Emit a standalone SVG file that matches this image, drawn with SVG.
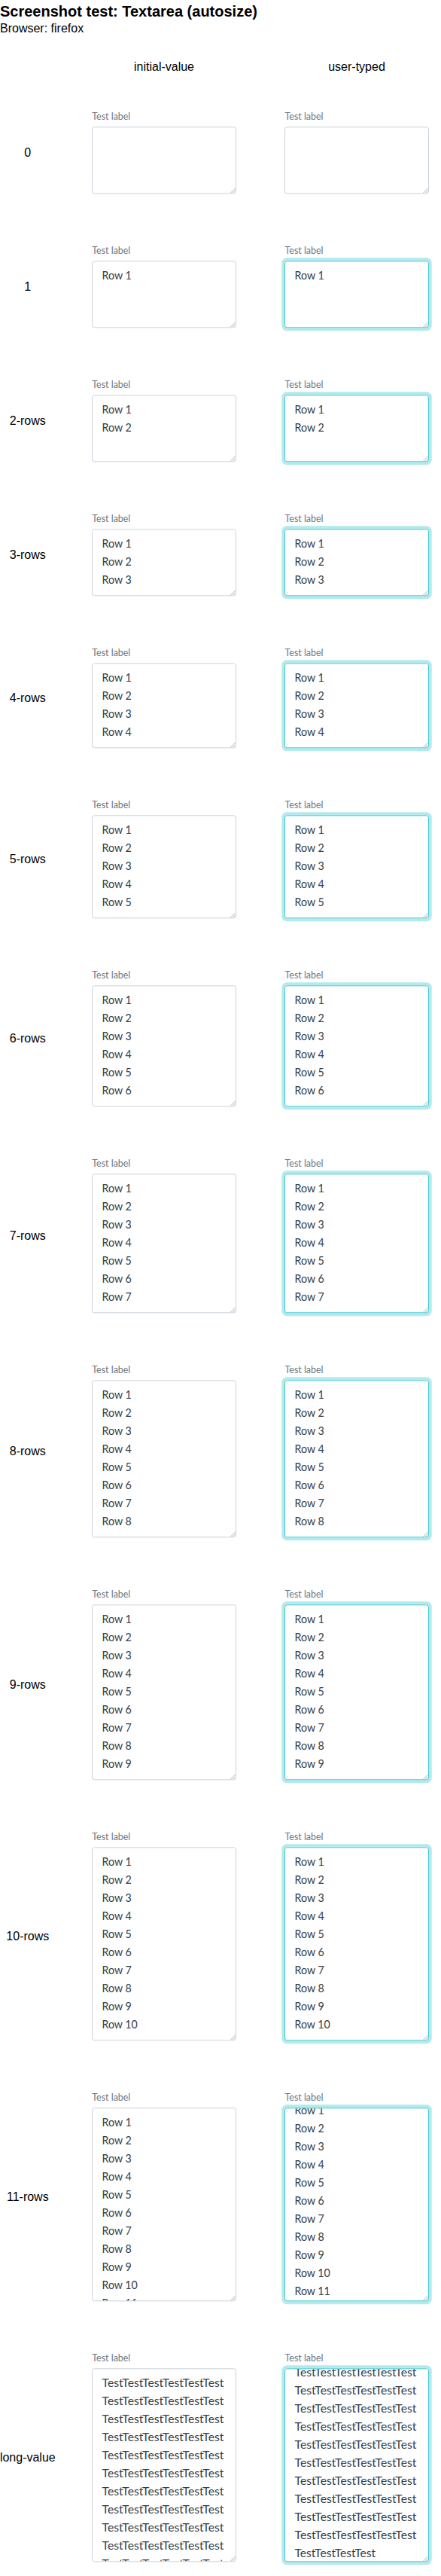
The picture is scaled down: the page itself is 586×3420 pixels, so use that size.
<svg xmlns="http://www.w3.org/2000/svg" xmlns:xlink="http://www.w3.org/1999/xlink" width="586" height="3420" viewBox="0 0 586 3420">
<style>
.title{font-family:"Liberation Sans",Arial,sans-serif;font-size:20px;font-weight:bold;fill:#000}
.hdr{font-family:"Liberation Sans",Arial,sans-serif;font-size:16px;fill:#000}
.mid{text-anchor:middle}
.lbl{font-family:"Source Sans Pro",Lato,"Noto Sans",sans-serif;font-size:12.5px;fill:#6b7886}
.val{font-family:"Source Sans Pro",Lato,"Noto Sans",sans-serif;font-size:15.5px;fill:#333e49}
.box{fill:#fff;stroke:#c9d3dc;stroke-width:1}
.fbox{fill:#fff;stroke:#40c9d1;stroke-width:1}
.glow{fill:none;stroke:#b4eaed;stroke-width:4}
.grip{fill:none;stroke:#b3b3b3;stroke-width:1}
</style>
<defs>
<path id="grip" class="grip" d="M-6,0 L0,-6 M-3,0 L0,-3"/>
<clipPath id="c11l"><rect x="123" y="2799.3" width="190" height="255"/></clipPath>
<clipPath id="c11r"><rect x="379" y="2799.3" width="190" height="255"/></clipPath>
<clipPath id="cLl"><rect x="123" y="3145.3" width="190" height="255"/></clipPath>
<clipPath id="cLr"><rect x="379" y="3145.3" width="190" height="255"/></clipPath>
</defs>

<g id="heading">
<text class="title" x="0" y="22">Screenshot test: Textarea (autosize)</text>
<text class="hdr" x="0" y="42.5">Browser: firefox</text>
<text class="hdr mid" x="218" y="94">initial-value</text>
<text class="hdr mid" x="474" y="94">user-typed</text>
</g>

<g id="row-0">
<text class="hdr mid" x="36.8" y="208.35">0</text>
<g id="row-0-initial">
<text class="lbl" x="122.3" y="159.3" textLength="51" lengthAdjust="spacingAndGlyphs">Test label</text>
<rect class="box" x="122.5" y="168.8" width="191" height="88" rx="3"/>
<use xlink:href="#grip" x="312.5" y="256"/>
</g>
<g id="row-0-typed">
<text class="lbl" x="378.5" y="159.3" textLength="51" lengthAdjust="spacingAndGlyphs">Test label</text>
<rect class="box" x="378.5" y="168.8" width="191" height="88" rx="3"/>
<use xlink:href="#grip" x="568.5" y="256"/>
</g>
</g>

<g id="row-1">
<text class="hdr mid" x="36.8" y="386.35">1</text>
<g id="row-1-initial">
<text class="lbl" x="122.3" y="337.3" textLength="51" lengthAdjust="spacingAndGlyphs">Test label</text>
<rect class="box" x="122.5" y="346.8" width="191" height="88" rx="3"/>
<use xlink:href="#grip" x="312.5" y="434"/>
<text class="val" x="135.5" y="371.3" textLength="39.3" lengthAdjust="spacingAndGlyphs">Row 1</text>
</g>
<g id="row-1-typed">
<text class="lbl" x="378.5" y="337.3" textLength="51" lengthAdjust="spacingAndGlyphs">Test label</text>
<rect class="glow" x="376.3" y="344.3" width="195.4" height="93" rx="5"/>
<rect class="fbox" x="378.5" y="346.8" width="191" height="88" rx="3"/>
<use xlink:href="#grip" x="568.5" y="434"/>
<text class="val" x="391.5" y="371.3" textLength="39.3" lengthAdjust="spacingAndGlyphs">Row 1</text>
</g>
</g>

<g id="row-2">
<text class="hdr mid" x="36.8" y="564.35">2-rows</text>
<g id="row-2-initial">
<text class="lbl" x="122.3" y="515.3" textLength="51" lengthAdjust="spacingAndGlyphs">Test label</text>
<rect class="box" x="122.5" y="524.8" width="191" height="88" rx="3"/>
<use xlink:href="#grip" x="312.5" y="612"/>
<text class="val" x="135.5" y="549.3" textLength="39.3" lengthAdjust="spacingAndGlyphs">Row 1</text>
<text class="val" x="135.5" y="573.3" textLength="39.3" lengthAdjust="spacingAndGlyphs">Row 2</text>
</g>
<g id="row-2-typed">
<text class="lbl" x="378.5" y="515.3" textLength="51" lengthAdjust="spacingAndGlyphs">Test label</text>
<rect class="glow" x="376.3" y="522.3" width="195.4" height="93" rx="5"/>
<rect class="fbox" x="378.5" y="524.8" width="191" height="88" rx="3"/>
<use xlink:href="#grip" x="568.5" y="612"/>
<text class="val" x="391.5" y="549.3" textLength="39.3" lengthAdjust="spacingAndGlyphs">Row 1</text>
<text class="val" x="391.5" y="573.3" textLength="39.3" lengthAdjust="spacingAndGlyphs">Row 2</text>
</g>
</g>

<g id="row-3">
<text class="hdr mid" x="36.8" y="742.35">3-rows</text>
<g id="row-3-initial">
<text class="lbl" x="122.3" y="693.3" textLength="51" lengthAdjust="spacingAndGlyphs">Test label</text>
<rect class="box" x="122.5" y="702.8" width="191" height="88" rx="3"/>
<use xlink:href="#grip" x="312.5" y="790"/>
<text class="val" x="135.5" y="727.3" textLength="39.3" lengthAdjust="spacingAndGlyphs">Row 1</text>
<text class="val" x="135.5" y="751.3" textLength="39.3" lengthAdjust="spacingAndGlyphs">Row 2</text>
<text class="val" x="135.5" y="775.3" textLength="39.3" lengthAdjust="spacingAndGlyphs">Row 3</text>
</g>
<g id="row-3-typed">
<text class="lbl" x="378.5" y="693.3" textLength="51" lengthAdjust="spacingAndGlyphs">Test label</text>
<rect class="glow" x="376.3" y="700.3" width="195.4" height="93" rx="5"/>
<rect class="fbox" x="378.5" y="702.8" width="191" height="88" rx="3"/>
<use xlink:href="#grip" x="568.5" y="790"/>
<text class="val" x="391.5" y="727.3" textLength="39.3" lengthAdjust="spacingAndGlyphs">Row 1</text>
<text class="val" x="391.5" y="751.3" textLength="39.3" lengthAdjust="spacingAndGlyphs">Row 2</text>
<text class="val" x="391.5" y="775.3" textLength="39.3" lengthAdjust="spacingAndGlyphs">Row 3</text>
</g>
</g>

<g id="row-4">
<text class="hdr mid" x="36.8" y="932.35">4-rows</text>
<g id="row-4-initial">
<text class="lbl" x="122.3" y="871.3" textLength="51" lengthAdjust="spacingAndGlyphs">Test label</text>
<rect class="box" x="122.5" y="880.8" width="191" height="112" rx="3"/>
<use xlink:href="#grip" x="312.5" y="992"/>
<text class="val" x="135.5" y="905.3" textLength="39.3" lengthAdjust="spacingAndGlyphs">Row 1</text>
<text class="val" x="135.5" y="929.3" textLength="39.3" lengthAdjust="spacingAndGlyphs">Row 2</text>
<text class="val" x="135.5" y="953.3" textLength="39.3" lengthAdjust="spacingAndGlyphs">Row 3</text>
<text class="val" x="135.5" y="977.3" textLength="39.3" lengthAdjust="spacingAndGlyphs">Row 4</text>
</g>
<g id="row-4-typed">
<text class="lbl" x="378.5" y="871.3" textLength="51" lengthAdjust="spacingAndGlyphs">Test label</text>
<rect class="glow" x="376.3" y="878.3" width="195.4" height="117" rx="5"/>
<rect class="fbox" x="378.5" y="880.8" width="191" height="112" rx="3"/>
<use xlink:href="#grip" x="568.5" y="992"/>
<text class="val" x="391.5" y="905.3" textLength="39.3" lengthAdjust="spacingAndGlyphs">Row 1</text>
<text class="val" x="391.5" y="929.3" textLength="39.3" lengthAdjust="spacingAndGlyphs">Row 2</text>
<text class="val" x="391.5" y="953.3" textLength="39.3" lengthAdjust="spacingAndGlyphs">Row 3</text>
<text class="val" x="391.5" y="977.3" textLength="39.3" lengthAdjust="spacingAndGlyphs">Row 4</text>
</g>
</g>

<g id="row-5">
<text class="hdr mid" x="36.8" y="1146.35">5-rows</text>
<g id="row-5-initial">
<text class="lbl" x="122.3" y="1073.3" textLength="51" lengthAdjust="spacingAndGlyphs">Test label</text>
<rect class="box" x="122.5" y="1082.8" width="191" height="136" rx="3"/>
<use xlink:href="#grip" x="312.5" y="1218"/>
<text class="val" x="135.5" y="1107.3" textLength="39.3" lengthAdjust="spacingAndGlyphs">Row 1</text>
<text class="val" x="135.5" y="1131.3" textLength="39.3" lengthAdjust="spacingAndGlyphs">Row 2</text>
<text class="val" x="135.5" y="1155.3" textLength="39.3" lengthAdjust="spacingAndGlyphs">Row 3</text>
<text class="val" x="135.5" y="1179.3" textLength="39.3" lengthAdjust="spacingAndGlyphs">Row 4</text>
<text class="val" x="135.5" y="1203.3" textLength="39.3" lengthAdjust="spacingAndGlyphs">Row 5</text>
</g>
<g id="row-5-typed">
<text class="lbl" x="378.5" y="1073.3" textLength="51" lengthAdjust="spacingAndGlyphs">Test label</text>
<rect class="glow" x="376.3" y="1080.3" width="195.4" height="141" rx="5"/>
<rect class="fbox" x="378.5" y="1082.8" width="191" height="136" rx="3"/>
<use xlink:href="#grip" x="568.5" y="1218"/>
<text class="val" x="391.5" y="1107.3" textLength="39.3" lengthAdjust="spacingAndGlyphs">Row 1</text>
<text class="val" x="391.5" y="1131.3" textLength="39.3" lengthAdjust="spacingAndGlyphs">Row 2</text>
<text class="val" x="391.5" y="1155.3" textLength="39.3" lengthAdjust="spacingAndGlyphs">Row 3</text>
<text class="val" x="391.5" y="1179.3" textLength="39.3" lengthAdjust="spacingAndGlyphs">Row 4</text>
<text class="val" x="391.5" y="1203.3" textLength="39.3" lengthAdjust="spacingAndGlyphs">Row 5</text>
</g>
</g>

<g id="row-6">
<text class="hdr mid" x="36.8" y="1384.35">6-rows</text>
<g id="row-6-initial">
<text class="lbl" x="122.3" y="1299.3" textLength="51" lengthAdjust="spacingAndGlyphs">Test label</text>
<rect class="box" x="122.5" y="1308.8" width="191" height="160" rx="3"/>
<use xlink:href="#grip" x="312.5" y="1468"/>
<text class="val" x="135.5" y="1333.3" textLength="39.3" lengthAdjust="spacingAndGlyphs">Row 1</text>
<text class="val" x="135.5" y="1357.3" textLength="39.3" lengthAdjust="spacingAndGlyphs">Row 2</text>
<text class="val" x="135.5" y="1381.3" textLength="39.3" lengthAdjust="spacingAndGlyphs">Row 3</text>
<text class="val" x="135.5" y="1405.3" textLength="39.3" lengthAdjust="spacingAndGlyphs">Row 4</text>
<text class="val" x="135.5" y="1429.3" textLength="39.3" lengthAdjust="spacingAndGlyphs">Row 5</text>
<text class="val" x="135.5" y="1453.3" textLength="39.3" lengthAdjust="spacingAndGlyphs">Row 6</text>
</g>
<g id="row-6-typed">
<text class="lbl" x="378.5" y="1299.3" textLength="51" lengthAdjust="spacingAndGlyphs">Test label</text>
<rect class="glow" x="376.3" y="1306.3" width="195.4" height="165" rx="5"/>
<rect class="fbox" x="378.5" y="1308.8" width="191" height="160" rx="3"/>
<use xlink:href="#grip" x="568.5" y="1468"/>
<text class="val" x="391.5" y="1333.3" textLength="39.3" lengthAdjust="spacingAndGlyphs">Row 1</text>
<text class="val" x="391.5" y="1357.3" textLength="39.3" lengthAdjust="spacingAndGlyphs">Row 2</text>
<text class="val" x="391.5" y="1381.3" textLength="39.3" lengthAdjust="spacingAndGlyphs">Row 3</text>
<text class="val" x="391.5" y="1405.3" textLength="39.3" lengthAdjust="spacingAndGlyphs">Row 4</text>
<text class="val" x="391.5" y="1429.3" textLength="39.3" lengthAdjust="spacingAndGlyphs">Row 5</text>
<text class="val" x="391.5" y="1453.3" textLength="39.3" lengthAdjust="spacingAndGlyphs">Row 6</text>
</g>
</g>

<g id="row-7">
<text class="hdr mid" x="36.8" y="1646.35">7-rows</text>
<g id="row-7-initial">
<text class="lbl" x="122.3" y="1549.3" textLength="51" lengthAdjust="spacingAndGlyphs">Test label</text>
<rect class="box" x="122.5" y="1558.8" width="191" height="184" rx="3"/>
<use xlink:href="#grip" x="312.5" y="1742"/>
<text class="val" x="135.5" y="1583.3" textLength="39.3" lengthAdjust="spacingAndGlyphs">Row 1</text>
<text class="val" x="135.5" y="1607.3" textLength="39.3" lengthAdjust="spacingAndGlyphs">Row 2</text>
<text class="val" x="135.5" y="1631.3" textLength="39.3" lengthAdjust="spacingAndGlyphs">Row 3</text>
<text class="val" x="135.5" y="1655.3" textLength="39.3" lengthAdjust="spacingAndGlyphs">Row 4</text>
<text class="val" x="135.5" y="1679.3" textLength="39.3" lengthAdjust="spacingAndGlyphs">Row 5</text>
<text class="val" x="135.5" y="1703.3" textLength="39.3" lengthAdjust="spacingAndGlyphs">Row 6</text>
<text class="val" x="135.5" y="1727.3" textLength="39.3" lengthAdjust="spacingAndGlyphs">Row 7</text>
</g>
<g id="row-7-typed">
<text class="lbl" x="378.5" y="1549.3" textLength="51" lengthAdjust="spacingAndGlyphs">Test label</text>
<rect class="glow" x="376.3" y="1556.3" width="195.4" height="189" rx="5"/>
<rect class="fbox" x="378.5" y="1558.8" width="191" height="184" rx="3"/>
<use xlink:href="#grip" x="568.5" y="1742"/>
<text class="val" x="391.5" y="1583.3" textLength="39.3" lengthAdjust="spacingAndGlyphs">Row 1</text>
<text class="val" x="391.5" y="1607.3" textLength="39.3" lengthAdjust="spacingAndGlyphs">Row 2</text>
<text class="val" x="391.5" y="1631.3" textLength="39.3" lengthAdjust="spacingAndGlyphs">Row 3</text>
<text class="val" x="391.5" y="1655.3" textLength="39.3" lengthAdjust="spacingAndGlyphs">Row 4</text>
<text class="val" x="391.5" y="1679.3" textLength="39.3" lengthAdjust="spacingAndGlyphs">Row 5</text>
<text class="val" x="391.5" y="1703.3" textLength="39.3" lengthAdjust="spacingAndGlyphs">Row 6</text>
<text class="val" x="391.5" y="1727.3" textLength="39.3" lengthAdjust="spacingAndGlyphs">Row 7</text>
</g>
</g>

<g id="row-8">
<text class="hdr mid" x="36.8" y="1932.35">8-rows</text>
<g id="row-8-initial">
<text class="lbl" x="122.3" y="1823.3" textLength="51" lengthAdjust="spacingAndGlyphs">Test label</text>
<rect class="box" x="122.5" y="1832.8" width="191" height="208" rx="3"/>
<use xlink:href="#grip" x="312.5" y="2040"/>
<text class="val" x="135.5" y="1857.3" textLength="39.3" lengthAdjust="spacingAndGlyphs">Row 1</text>
<text class="val" x="135.5" y="1881.3" textLength="39.3" lengthAdjust="spacingAndGlyphs">Row 2</text>
<text class="val" x="135.5" y="1905.3" textLength="39.3" lengthAdjust="spacingAndGlyphs">Row 3</text>
<text class="val" x="135.5" y="1929.3" textLength="39.3" lengthAdjust="spacingAndGlyphs">Row 4</text>
<text class="val" x="135.5" y="1953.3" textLength="39.3" lengthAdjust="spacingAndGlyphs">Row 5</text>
<text class="val" x="135.5" y="1977.3" textLength="39.3" lengthAdjust="spacingAndGlyphs">Row 6</text>
<text class="val" x="135.5" y="2001.3" textLength="39.3" lengthAdjust="spacingAndGlyphs">Row 7</text>
<text class="val" x="135.5" y="2025.3" textLength="39.3" lengthAdjust="spacingAndGlyphs">Row 8</text>
</g>
<g id="row-8-typed">
<text class="lbl" x="378.5" y="1823.3" textLength="51" lengthAdjust="spacingAndGlyphs">Test label</text>
<rect class="glow" x="376.3" y="1830.3" width="195.4" height="213" rx="5"/>
<rect class="fbox" x="378.5" y="1832.8" width="191" height="208" rx="3"/>
<use xlink:href="#grip" x="568.5" y="2040"/>
<text class="val" x="391.5" y="1857.3" textLength="39.3" lengthAdjust="spacingAndGlyphs">Row 1</text>
<text class="val" x="391.5" y="1881.3" textLength="39.3" lengthAdjust="spacingAndGlyphs">Row 2</text>
<text class="val" x="391.5" y="1905.3" textLength="39.3" lengthAdjust="spacingAndGlyphs">Row 3</text>
<text class="val" x="391.5" y="1929.3" textLength="39.3" lengthAdjust="spacingAndGlyphs">Row 4</text>
<text class="val" x="391.5" y="1953.3" textLength="39.3" lengthAdjust="spacingAndGlyphs">Row 5</text>
<text class="val" x="391.5" y="1977.3" textLength="39.3" lengthAdjust="spacingAndGlyphs">Row 6</text>
<text class="val" x="391.5" y="2001.3" textLength="39.3" lengthAdjust="spacingAndGlyphs">Row 7</text>
<text class="val" x="391.5" y="2025.3" textLength="39.3" lengthAdjust="spacingAndGlyphs">Row 8</text>
</g>
</g>

<g id="row-9">
<text class="hdr mid" x="36.8" y="2242.35">9-rows</text>
<g id="row-9-initial">
<text class="lbl" x="122.3" y="2121.3" textLength="51" lengthAdjust="spacingAndGlyphs">Test label</text>
<rect class="box" x="122.5" y="2130.8" width="191" height="232" rx="3"/>
<use xlink:href="#grip" x="312.5" y="2362"/>
<text class="val" x="135.5" y="2155.3" textLength="39.3" lengthAdjust="spacingAndGlyphs">Row 1</text>
<text class="val" x="135.5" y="2179.3" textLength="39.3" lengthAdjust="spacingAndGlyphs">Row 2</text>
<text class="val" x="135.5" y="2203.3" textLength="39.3" lengthAdjust="spacingAndGlyphs">Row 3</text>
<text class="val" x="135.5" y="2227.3" textLength="39.3" lengthAdjust="spacingAndGlyphs">Row 4</text>
<text class="val" x="135.5" y="2251.3" textLength="39.3" lengthAdjust="spacingAndGlyphs">Row 5</text>
<text class="val" x="135.5" y="2275.3" textLength="39.3" lengthAdjust="spacingAndGlyphs">Row 6</text>
<text class="val" x="135.5" y="2299.3" textLength="39.3" lengthAdjust="spacingAndGlyphs">Row 7</text>
<text class="val" x="135.5" y="2323.3" textLength="39.3" lengthAdjust="spacingAndGlyphs">Row 8</text>
<text class="val" x="135.5" y="2347.3" textLength="39.3" lengthAdjust="spacingAndGlyphs">Row 9</text>
</g>
<g id="row-9-typed">
<text class="lbl" x="378.5" y="2121.3" textLength="51" lengthAdjust="spacingAndGlyphs">Test label</text>
<rect class="glow" x="376.3" y="2128.3" width="195.4" height="237" rx="5"/>
<rect class="fbox" x="378.5" y="2130.8" width="191" height="232" rx="3"/>
<use xlink:href="#grip" x="568.5" y="2362"/>
<text class="val" x="391.5" y="2155.3" textLength="39.3" lengthAdjust="spacingAndGlyphs">Row 1</text>
<text class="val" x="391.5" y="2179.3" textLength="39.3" lengthAdjust="spacingAndGlyphs">Row 2</text>
<text class="val" x="391.5" y="2203.3" textLength="39.3" lengthAdjust="spacingAndGlyphs">Row 3</text>
<text class="val" x="391.5" y="2227.3" textLength="39.3" lengthAdjust="spacingAndGlyphs">Row 4</text>
<text class="val" x="391.5" y="2251.3" textLength="39.3" lengthAdjust="spacingAndGlyphs">Row 5</text>
<text class="val" x="391.5" y="2275.3" textLength="39.3" lengthAdjust="spacingAndGlyphs">Row 6</text>
<text class="val" x="391.5" y="2299.3" textLength="39.3" lengthAdjust="spacingAndGlyphs">Row 7</text>
<text class="val" x="391.5" y="2323.3" textLength="39.3" lengthAdjust="spacingAndGlyphs">Row 8</text>
<text class="val" x="391.5" y="2347.3" textLength="39.3" lengthAdjust="spacingAndGlyphs">Row 9</text>
</g>
</g>

<g id="row-10">
<text class="hdr mid" x="36.8" y="2576.35">10-rows</text>
<g id="row-10-initial">
<text class="lbl" x="122.3" y="2443.3" textLength="51" lengthAdjust="spacingAndGlyphs">Test label</text>
<rect class="box" x="122.5" y="2452.8" width="191" height="256" rx="3"/>
<use xlink:href="#grip" x="312.5" y="2708"/>
<text class="val" x="135.5" y="2477.3" textLength="39.3" lengthAdjust="spacingAndGlyphs">Row 1</text>
<text class="val" x="135.5" y="2501.3" textLength="39.3" lengthAdjust="spacingAndGlyphs">Row 2</text>
<text class="val" x="135.5" y="2525.3" textLength="39.3" lengthAdjust="spacingAndGlyphs">Row 3</text>
<text class="val" x="135.5" y="2549.3" textLength="39.3" lengthAdjust="spacingAndGlyphs">Row 4</text>
<text class="val" x="135.5" y="2573.3" textLength="39.3" lengthAdjust="spacingAndGlyphs">Row 5</text>
<text class="val" x="135.5" y="2597.3" textLength="39.3" lengthAdjust="spacingAndGlyphs">Row 6</text>
<text class="val" x="135.5" y="2621.3" textLength="39.3" lengthAdjust="spacingAndGlyphs">Row 7</text>
<text class="val" x="135.5" y="2645.3" textLength="39.3" lengthAdjust="spacingAndGlyphs">Row 8</text>
<text class="val" x="135.5" y="2669.3" textLength="39.3" lengthAdjust="spacingAndGlyphs">Row 9</text>
<text class="val" x="135.5" y="2693.3" textLength="47.3" lengthAdjust="spacingAndGlyphs">Row 10</text>
</g>
<g id="row-10-typed">
<text class="lbl" x="378.5" y="2443.3" textLength="51" lengthAdjust="spacingAndGlyphs">Test label</text>
<rect class="glow" x="376.3" y="2450.3" width="195.4" height="261" rx="5"/>
<rect class="fbox" x="378.5" y="2452.8" width="191" height="256" rx="3"/>
<use xlink:href="#grip" x="568.5" y="2708"/>
<text class="val" x="391.5" y="2477.3" textLength="39.3" lengthAdjust="spacingAndGlyphs">Row 1</text>
<text class="val" x="391.5" y="2501.3" textLength="39.3" lengthAdjust="spacingAndGlyphs">Row 2</text>
<text class="val" x="391.5" y="2525.3" textLength="39.3" lengthAdjust="spacingAndGlyphs">Row 3</text>
<text class="val" x="391.5" y="2549.3" textLength="39.3" lengthAdjust="spacingAndGlyphs">Row 4</text>
<text class="val" x="391.5" y="2573.3" textLength="39.3" lengthAdjust="spacingAndGlyphs">Row 5</text>
<text class="val" x="391.5" y="2597.3" textLength="39.3" lengthAdjust="spacingAndGlyphs">Row 6</text>
<text class="val" x="391.5" y="2621.3" textLength="39.3" lengthAdjust="spacingAndGlyphs">Row 7</text>
<text class="val" x="391.5" y="2645.3" textLength="39.3" lengthAdjust="spacingAndGlyphs">Row 8</text>
<text class="val" x="391.5" y="2669.3" textLength="39.3" lengthAdjust="spacingAndGlyphs">Row 9</text>
<text class="val" x="391.5" y="2693.3" textLength="47.3" lengthAdjust="spacingAndGlyphs">Row 10</text>
</g>
</g>

<g id="row-11">
<text class="hdr mid" x="36.8" y="2922.35">11-rows</text>
<g id="row-11-initial">
<text class="lbl" x="122.3" y="2789.3" textLength="51" lengthAdjust="spacingAndGlyphs">Test label</text>
<rect class="box" x="122.5" y="2798.8" width="191" height="256" rx="3"/>
<g clip-path="url(#c11l)">
<text class="val" x="135.5" y="2823.3" textLength="39.3" lengthAdjust="spacingAndGlyphs">Row 1</text>
<text class="val" x="135.5" y="2847.3" textLength="39.3" lengthAdjust="spacingAndGlyphs">Row 2</text>
<text class="val" x="135.5" y="2871.3" textLength="39.3" lengthAdjust="spacingAndGlyphs">Row 3</text>
<text class="val" x="135.5" y="2895.3" textLength="39.3" lengthAdjust="spacingAndGlyphs">Row 4</text>
<text class="val" x="135.5" y="2919.3" textLength="39.3" lengthAdjust="spacingAndGlyphs">Row 5</text>
<text class="val" x="135.5" y="2943.3" textLength="39.3" lengthAdjust="spacingAndGlyphs">Row 6</text>
<text class="val" x="135.5" y="2967.3" textLength="39.3" lengthAdjust="spacingAndGlyphs">Row 7</text>
<text class="val" x="135.5" y="2991.3" textLength="39.3" lengthAdjust="spacingAndGlyphs">Row 8</text>
<text class="val" x="135.5" y="3015.3" textLength="39.3" lengthAdjust="spacingAndGlyphs">Row 9</text>
<text class="val" x="135.5" y="3039.3" textLength="47.3" lengthAdjust="spacingAndGlyphs">Row 10</text>
<text class="val" x="135.5" y="3063.3" textLength="47.3" lengthAdjust="spacingAndGlyphs">Row 11</text>
</g>
<use xlink:href="#grip" x="312.5" y="3054"/>
</g>
<g id="row-11-typed">
<text class="lbl" x="378.5" y="2789.3" textLength="51" lengthAdjust="spacingAndGlyphs">Test label</text>
<rect class="glow" x="376.3" y="2796.3" width="195.4" height="261" rx="5"/>
<rect class="fbox" x="378.5" y="2798.8" width="191" height="256" rx="3"/>
<g clip-path="url(#c11r)">
<text class="val" x="391.5" y="2806.7" textLength="39.3" lengthAdjust="spacingAndGlyphs">Row 1</text>
<text class="val" x="391.5" y="2830.7" textLength="39.3" lengthAdjust="spacingAndGlyphs">Row 2</text>
<text class="val" x="391.5" y="2854.7" textLength="39.3" lengthAdjust="spacingAndGlyphs">Row 3</text>
<text class="val" x="391.5" y="2878.7" textLength="39.3" lengthAdjust="spacingAndGlyphs">Row 4</text>
<text class="val" x="391.5" y="2902.7" textLength="39.3" lengthAdjust="spacingAndGlyphs">Row 5</text>
<text class="val" x="391.5" y="2926.7" textLength="39.3" lengthAdjust="spacingAndGlyphs">Row 6</text>
<text class="val" x="391.5" y="2950.7" textLength="39.3" lengthAdjust="spacingAndGlyphs">Row 7</text>
<text class="val" x="391.5" y="2974.7" textLength="39.3" lengthAdjust="spacingAndGlyphs">Row 8</text>
<text class="val" x="391.5" y="2998.7" textLength="39.3" lengthAdjust="spacingAndGlyphs">Row 9</text>
<text class="val" x="391.5" y="3022.7" textLength="47.3" lengthAdjust="spacingAndGlyphs">Row 10</text>
<text class="val" x="391.5" y="3046.7" textLength="47.3" lengthAdjust="spacingAndGlyphs">Row 11</text>
</g>
<use xlink:href="#grip" x="568.5" y="3054"/>
</g>
</g>

<g id="row-long-value">
<text class="hdr mid" x="36.8" y="3268.35">long-value</text>
<g id="row-long-initial">
<text class="lbl" x="122.3" y="3135.3" textLength="51" lengthAdjust="spacingAndGlyphs">Test label</text>
<rect class="box" x="122.5" y="3144.8" width="191" height="256" rx="3"/>
<g clip-path="url(#cLl)">
<text class="val" x="135.5" y="3169.3" textLength="162" lengthAdjust="spacingAndGlyphs">TestTestTestTestTestTest</text>
<text class="val" x="135.5" y="3193.3" textLength="162" lengthAdjust="spacingAndGlyphs">TestTestTestTestTestTest</text>
<text class="val" x="135.5" y="3217.3" textLength="162" lengthAdjust="spacingAndGlyphs">TestTestTestTestTestTest</text>
<text class="val" x="135.5" y="3241.3" textLength="162" lengthAdjust="spacingAndGlyphs">TestTestTestTestTestTest</text>
<text class="val" x="135.5" y="3265.3" textLength="162" lengthAdjust="spacingAndGlyphs">TestTestTestTestTestTest</text>
<text class="val" x="135.5" y="3289.3" textLength="162" lengthAdjust="spacingAndGlyphs">TestTestTestTestTestTest</text>
<text class="val" x="135.5" y="3313.3" textLength="162" lengthAdjust="spacingAndGlyphs">TestTestTestTestTestTest</text>
<text class="val" x="135.5" y="3337.3" textLength="162" lengthAdjust="spacingAndGlyphs">TestTestTestTestTestTest</text>
<text class="val" x="135.5" y="3361.3" textLength="162" lengthAdjust="spacingAndGlyphs">TestTestTestTestTestTest</text>
<text class="val" x="135.5" y="3385.3" textLength="162" lengthAdjust="spacingAndGlyphs">TestTestTestTestTestTest</text>
<text class="val" x="135.5" y="3409.3" textLength="162" lengthAdjust="spacingAndGlyphs">TestTestTestTestTestTest</text>
</g>
<use xlink:href="#grip" x="312.5" y="3400"/>
</g>
<g id="row-long-typed">
<text class="lbl" x="378.5" y="3135.3" textLength="51" lengthAdjust="spacingAndGlyphs">Test label</text>
<rect class="glow" x="376.3" y="3142.3" width="195.4" height="261" rx="5"/>
<rect class="fbox" x="378.5" y="3144.8" width="191" height="256" rx="3"/>
<g clip-path="url(#cLr)">
<text class="val" x="391.5" y="3155.3" textLength="162" lengthAdjust="spacingAndGlyphs">TestTestTestTestTestTest</text>
<text class="val" x="391.5" y="3179.3" textLength="162" lengthAdjust="spacingAndGlyphs">TestTestTestTestTestTest</text>
<text class="val" x="391.5" y="3203.3" textLength="162" lengthAdjust="spacingAndGlyphs">TestTestTestTestTestTest</text>
<text class="val" x="391.5" y="3227.3" textLength="162" lengthAdjust="spacingAndGlyphs">TestTestTestTestTestTest</text>
<text class="val" x="391.5" y="3251.3" textLength="162" lengthAdjust="spacingAndGlyphs">TestTestTestTestTestTest</text>
<text class="val" x="391.5" y="3275.3" textLength="162" lengthAdjust="spacingAndGlyphs">TestTestTestTestTestTest</text>
<text class="val" x="391.5" y="3299.3" textLength="162" lengthAdjust="spacingAndGlyphs">TestTestTestTestTestTest</text>
<text class="val" x="391.5" y="3323.3" textLength="162" lengthAdjust="spacingAndGlyphs">TestTestTestTestTestTest</text>
<text class="val" x="391.5" y="3347.3" textLength="162" lengthAdjust="spacingAndGlyphs">TestTestTestTestTestTest</text>
<text class="val" x="391.5" y="3371.3" textLength="162" lengthAdjust="spacingAndGlyphs">TestTestTestTestTestTest</text>
<text class="val" x="391.5" y="3395.3" textLength="107.7" lengthAdjust="spacingAndGlyphs">TestTestTestTest</text>
</g>
<use xlink:href="#grip" x="568.5" y="3400"/>
</g>
</g>
</svg>
